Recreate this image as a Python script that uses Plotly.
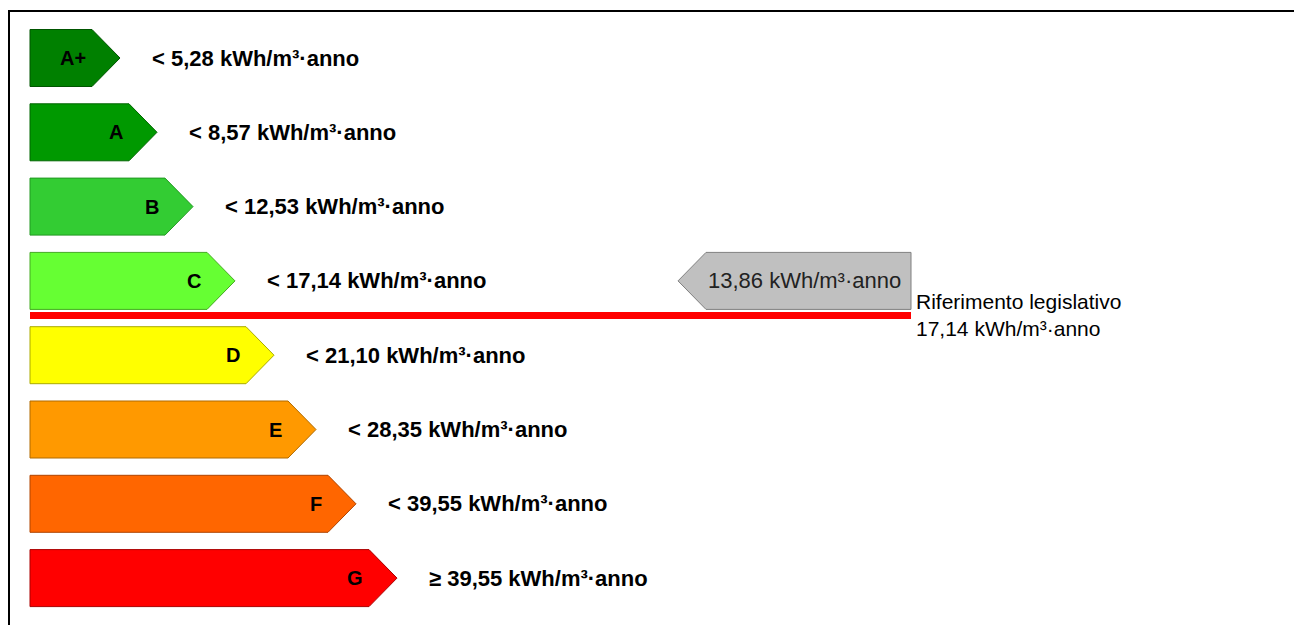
import plotly.graph_objects as go

# ---------------- data ----------------
classes = ["A+", "A", "B", "C", "D", "E", "F", "G"]
thresholds = ["< 5,28", "< 8,57", "< 12,53", "< 17,14", "< 21,10", "< 28,35", "< 39,55", "\u2265 39,55"]
unit = "kWh/m\u00b3\u00b7anno"
arrow_lengths = [90, 127, 163, 205, 244, 286, 326, 367]
colors = ["#008000", "#009900", "#33CC33", "#66FF33", "#FFFF00", "#FF9900", "#FF6600", "#FF0000"]
borders = ["#005500", "#006600", "#229922", "#44AA22", "#AAAA00", "#B06A00", "#B04400", "#AA0000"]
measured_value = "13,86"
measured_class = "C"
reference_value = "17,14"
reference_label = "Riferimento legislativo"

# ---------------- layout helpers (pixel mapping) ----------------
W, H = 1302, 625
OFF = 8            # page body margin in the browser
X0 = 30.0          # window pixel of x = 0
Y0, PITCH = 58.0, 74.3   # window pixel of row 0 centre, row pitch


def px(p):
    return p - X0


def py(p):
    return (p - Y0) / PITCH


HALF = 28.5 / PITCH
TIP = 28

fig = go.Figure()

for i, (c, L) in enumerate(zip(classes, arrow_lengths)):
    body = L - TIP
    xs = [0, body, L, body, 0, 0]
    ys = [i - HALF, i - HALF, i, i + HALF, i + HALF, i - HALF]
    fig.add_trace(go.Scatter(x=xs, y=ys, mode="lines", fill="toself",
                             fillcolor=colors[i], line=dict(color=borders[i], width=1),
                             hoverinfo="skip", showlegend=False))
    fig.add_annotation(x=body - 4, y=i, text="<b>%s</b>" % c, showarrow=False,
                       xanchor="right", yanchor="middle",
                       font=dict(family="Liberation Sans", size=20, color="black"))
    fig.add_annotation(x=L + 30, y=i, text="<b>%s %s</b>" % (thresholds[i], unit),
                       showarrow=False, xanchor="left", yanchor="middle",
                       font=dict(family="Liberation Sans", size=22, color="black"))

# measured value arrow (pointing left)
mi = classes.index(measured_class)
gl, gb, gr = px(678), px(706), px(911)
fig.add_trace(go.Scatter(x=[gb, gr, gr, gb, gl, gb], y=[mi - HALF, mi - HALF, mi + HALF, mi + HALF, mi, mi - HALF],
                         mode="lines", fill="toself", fillcolor="#C0C0C0",
                         line=dict(color="#808080", width=1), hoverinfo="skip", showlegend=False))
fig.add_annotation(x=gr - 8, y=mi, text="%s %s" % (measured_value, unit), showarrow=False,
                   xanchor="right", yanchor="middle",
                   font=dict(family="Liberation Sans", size=22, color="#222222"))

# legislative reference line
ry = mi + 0.465
fig.add_trace(go.Scatter(x=[0, gr], y=[ry, ry], mode="lines",
                         line=dict(color="#FF0000", width=7), hoverinfo="skip", showlegend=False))
fig.add_annotation(x=gr + 3, y=ry, text="%s<br>%s %s" % (reference_label, reference_value, unit),
                   showarrow=False, xanchor="left", yanchor="middle", align="left",
                   font=dict(family="Liberation Sans", size=21, color="black"))

# frame (top and left lines)
fig.add_shape(type="line", x0=px(OFF), x1=px(W + OFF), y0=py(11), y1=py(11), line=dict(color="black", width=2))
fig.add_shape(type="line", x0=px(OFF + 1), x1=px(OFF + 1), y0=py(10), y1=py(H + OFF), line=dict(color="black", width=2))

# the figure is placed at (OFF, OFF) in the window, so the visible area is shifted
fig.update_layout(
    width=W, height=H, margin=dict(l=0, r=0, t=0, b=0),
    paper_bgcolor="white", plot_bgcolor="white",
    xaxis=dict(range=[px(OFF), px(W + OFF)], visible=False, fixedrange=True),
    yaxis=dict(range=[py(H + OFF), py(OFF)], visible=False, fixedrange=True),
    showlegend=False,
)

fig.write_html("out.html", config={"displayModeBar": False})
